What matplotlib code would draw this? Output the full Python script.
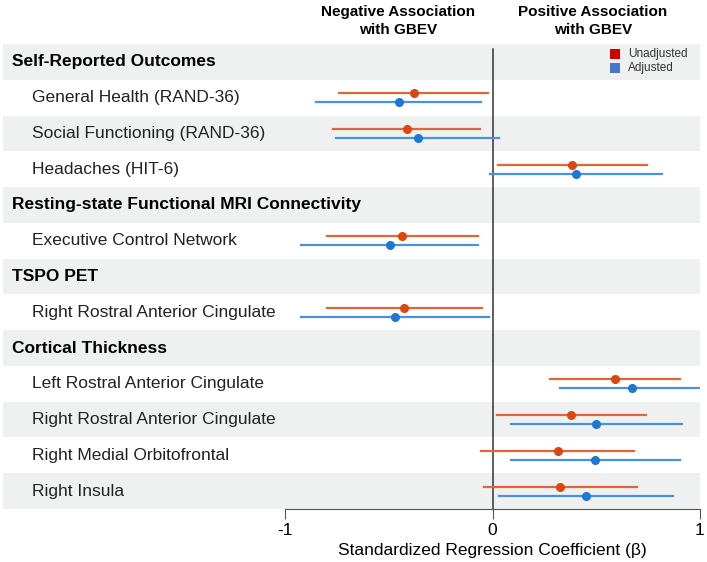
import numpy as np
import matplotlib.pyplot as plt

plt.rcParams['font.family'] = ['Liberation Sans', 'DejaVu Sans']

# rows from top to bottom; headers have no estimates
labels = ['Self-Reported Outcomes', 'General Health (RAND-36)', 'Social Functioning (RAND-36)',
          'Headaches (HIT-6)', 'Resting-state Functional MRI Connectivity', 'Executive Control Network',
          'TSPO PET', 'Right Rostral Anterior Cingulate', 'Cortical Thickness',
          'Left Rostral Anterior Cingulate', 'Right Rostral Anterior Cingulate',
          'Right Medial Orbitofrontal', 'Right Insula']
is_header = [True, False, False, False, True, False, True, False, True, False, False, False, False]

nan = np.nan
unadj_est = [nan, -0.38, -0.41, 0.385, nan, -0.435, nan, -0.427, nan, 0.59, 0.378, 0.315, 0.325]
unadj_lo = [nan, -0.74, -0.77, 0.027, nan, -0.80, nan, -0.80, nan, 0.275, 0.021, -0.055, -0.04]
unadj_hi = [nan, -0.02, -0.06, 0.745, nan, -0.068, nan, -0.052, nan, 0.905, 0.74, 0.684, 0.694]
adj_est = [nan, -0.45, -0.36, 0.40, nan, -0.496, nan, -0.47, nan, 0.673, 0.50, 0.496, 0.452]
adj_lo = [nan, -0.85, -0.755, -0.012, nan, -0.923, nan, -0.925, nan, 0.325, 0.09, 0.09, 0.032]
adj_hi = [nan, -0.055, 0.03, 0.816, nan, -0.068, nan, -0.015, nan, 1.0, 0.913, 0.905, 0.872]

c_unadj_line = '#e0663a'
c_unadj_dot = '#d9480f'
c_adj_line = '#4a90e0'
c_adj_dot = '#1f77d4'

fig = plt.figure(figsize=(7.07, 5.62), dpi=100)
ax = fig.add_axes([3/707, 53/562, 697/707, 465/562])

n = len(labels)
xleft = -1 - 282/207.5
ax.set_xlim(xleft, 1)
ax.set_ylim(n - 0.5, -0.5)

# alternating bands
for i in range(n):
    if i % 2 == 0:
        ax.fill_between([xleft, 1], i - 0.5, i + 0.5, color='#eff1f0', lw=0, zorder=0)

ax.axvline(0, ymin=0, ymax=0.99, color='#333333', lw=1.1, zorder=2)

off = 0.125
for i in range(n):
    if is_header[i]:
        ax.text(xleft + 9/207.5, i, labels[i], fontsize=12.5, fontweight='bold', va='center', ha='left')
        continue
    ax.text(xleft + 29/207.5, i, labels[i], fontsize=12.5, va='center', ha='left', color='#222222')
    ax.plot([unadj_lo[i], unadj_hi[i]], [i - off, i - off], color=c_unadj_line, lw=1.6, zorder=3)
    ax.plot(unadj_est[i], i - off, 'o', color=c_unadj_dot, ms=5.5, zorder=4)
    ax.plot([adj_lo[i], adj_hi[i]], [i + off, i + off], color=c_adj_line, lw=1.6, zorder=3)
    ax.plot(adj_est[i], i + off, 'o', color=c_adj_dot, ms=5.5, zorder=4)

# legend
ax.scatter([0.59], [-0.22], marker='s', s=58, color='#c80000', lw=0, clip_on=False, zorder=5)
ax.text(0.652, -0.22, 'Unadjusted', fontsize=8.5, va='center', ha='left', color='#333333')
ax.scatter([0.59], [0.17], marker='s', s=58, color='#4a78c8', lw=0, clip_on=False, zorder=5)
ax.text(0.652, 0.17, 'Adjusted', fontsize=8.5, va='center', ha='left', color='#333333')

for s in ['top', 'right', 'left']:
    ax.spines[s].set_visible(False)
ax.spines['bottom'].set_bounds(-1, 1)
ax.spines['bottom'].set_color('#555555')
ax.set_xticks([-1, 0, 1])
ax.set_xticklabels(['-1', '0', '1'])
ax.tick_params(axis='x', length=7, color='#555555', labelsize=12.5, pad=3)
ax.set_yticks([])
ax.set_xlabel('Standardized Regression Coefficient (β)', fontsize=12.5)
ax.xaxis.set_label_coords((0 - xleft) / (1 - xleft), -34/465)

fig.text(398/707, 1 - 21/562, 'Negative Association\nwith GBEV', ha='center', va='center',
         fontsize=11, fontweight='bold', linespacing=1.35)
fig.text(593/707, 1 - 21/562, 'Positive Association\nwith GBEV', ha='center', va='center',
         fontsize=11, fontweight='bold', linespacing=1.35)

fig.savefig('out.png', dpi=100)
